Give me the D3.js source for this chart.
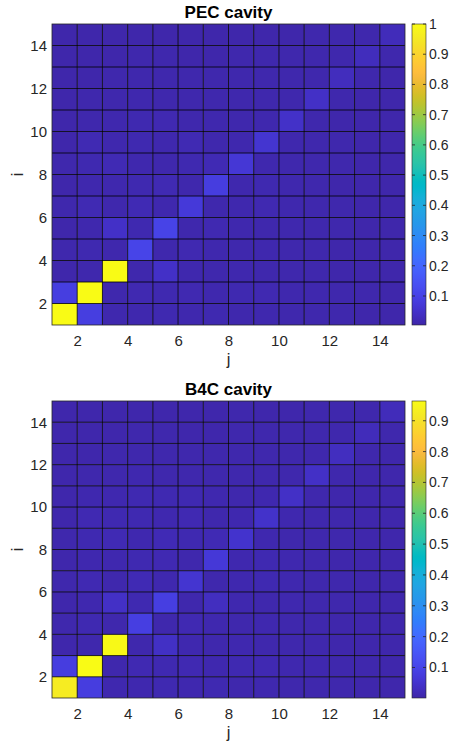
<!DOCTYPE html>
<html>
<head>
<meta charset="utf-8">
<script src="https://cdn.jsdelivr.net/npm/d3@7"></script>
<style>
  html, body { margin: 0; padding: 0; background: #fff; }
  svg { display: block; }
  text { font-family: "Liberation Sans", Arial, Helvetica, sans-serif; }
</style>
</head>
<body>
<svg id="chart" width="449" height="746"></svg>
<script>
// ---------------- data ----------------
const titles = ["PEC cavity", "B4C cavity"];
const axisTicks = [2, 4, 6, 8, 10, 12, 14];
const xLabel = "j";
const yLabel = "i";

// rows i = 1..14 (bottom to top), columns j = 1..14
const pecValues = [
  [1.0, 0.088, 0.012, 0.012, 0.014, 0.012, 0.014, 0.01, 0.012, 0.01, 0.01, 0.01, 0.008, 0.008],
  [0.088, 1.0, 0.01, 0.016, 0.014, 0.016, 0.012, 0.014, 0.016, 0.012, 0.012, 0.01, 0.01, 0.008],
  [0.008, 0.01, 1.0, 0.01, 0.045, 0.012, 0.01, 0.012, 0.01, 0.01, 0.01, 0.008, 0.008, 0.008],
  [0.01, 0.014, 0.01, 0.107, 0.01, 0.016, 0.012, 0.01, 0.012, 0.01, 0.01, 0.008, 0.008, 0.008],
  [0.008, 0.012, 0.045, 0.014, 0.105, 0.01, 0.016, 0.012, 0.01, 0.012, 0.01, 0.01, 0.008, 0.008],
  [0.01, 0.018, 0.01, 0.02, 0.012, 0.075, 0.01, 0.012, 0.016, 0.012, 0.01, 0.01, 0.008, 0.008],
  [0.008, 0.012, 0.012, 0.014, 0.018, 0.01, 0.085, 0.012, 0.014, 0.012, 0.01, 0.008, 0.008, 0.008],
  [0.01, 0.014, 0.02, 0.012, 0.01, 0.014, 0.02, 0.067, 0.012, 0.01, 0.01, 0.01, 0.008, 0.008],
  [0.008, 0.018, 0.012, 0.014, 0.012, 0.018, 0.01, 0.012, 0.06, 0.012, 0.01, 0.01, 0.008, 0.008],
  [0.008, 0.01, 0.012, 0.014, 0.016, 0.01, 0.012, 0.01, 0.012, 0.047, 0.01, 0.008, 0.008, 0.008],
  [0.008, 0.01, 0.01, 0.012, 0.01, 0.01, 0.01, 0.01, 0.01, 0.01, 0.044, 0.01, 0.008, 0.008],
  [0.008, 0.008, 0.01, 0.01, 0.01, 0.01, 0.01, 0.01, 0.01, 0.01, 0.01, 0.032, 0.01, 0.008],
  [0.008, 0.008, 0.008, 0.01, 0.01, 0.008, 0.008, 0.01, 0.01, 0.01, 0.01, 0.01, 0.03, 0.01],
  [0.008, 0.008, 0.008, 0.008, 0.008, 0.008, 0.008, 0.008, 0.008, 0.008, 0.01, 0.01, 0.01, 0.028]
];
const b4cValues = [
  [0.926, 0.08, 0.01, 0.01, 0.012, 0.01, 0.012, 0.008, 0.01, 0.008, 0.008, 0.008, 0.006, 0.006],
  [0.08, 0.964, 0.008, 0.014, 0.012, 0.014, 0.01, 0.012, 0.014, 0.01, 0.01, 0.008, 0.008, 0.006],
  [0.006, 0.008, 0.958, 0.008, 0.038, 0.01, 0.008, 0.01, 0.008, 0.008, 0.008, 0.006, 0.006, 0.006],
  [0.008, 0.012, 0.008, 0.085, 0.008, 0.014, 0.01, 0.008, 0.01, 0.008, 0.008, 0.006, 0.006, 0.006],
  [0.006, 0.01, 0.04, 0.012, 0.085, 0.008, 0.03, 0.01, 0.008, 0.01, 0.008, 0.008, 0.006, 0.006],
  [0.008, 0.014, 0.008, 0.016, 0.01, 0.055, 0.008, 0.01, 0.012, 0.01, 0.008, 0.008, 0.006, 0.006],
  [0.006, 0.01, 0.01, 0.012, 0.014, 0.008, 0.065, 0.01, 0.012, 0.01, 0.008, 0.006, 0.006, 0.006],
  [0.008, 0.012, 0.016, 0.01, 0.018, 0.012, 0.016, 0.05, 0.01, 0.008, 0.008, 0.008, 0.006, 0.006],
  [0.006, 0.014, 0.012, 0.012, 0.01, 0.014, 0.008, 0.01, 0.045, 0.01, 0.008, 0.008, 0.006, 0.006],
  [0.006, 0.01, 0.01, 0.012, 0.012, 0.012, 0.01, 0.008, 0.01, 0.04, 0.008, 0.006, 0.006, 0.006],
  [0.006, 0.008, 0.008, 0.01, 0.008, 0.008, 0.008, 0.008, 0.008, 0.008, 0.04, 0.008, 0.006, 0.006],
  [0.006, 0.006, 0.008, 0.008, 0.008, 0.008, 0.008, 0.008, 0.008, 0.008, 0.008, 0.03, 0.008, 0.006],
  [0.006, 0.006, 0.006, 0.008, 0.008, 0.006, 0.006, 0.008, 0.008, 0.008, 0.008, 0.008, 0.024, 0.008],
  [0.006, 0.006, 0.006, 0.006, 0.006, 0.006, 0.006, 0.008, 0.006, 0.006, 0.008, 0.008, 0.008, 0.024]
];
const pecColorRange = [0.004, 1.0];
const b4cColorRange = [0.001, 0.964];
const pecColorbarTicks = [0.1, 0.2, 0.3, 0.4, 0.5, 0.6, 0.7, 0.8, 0.9, 1];
const b4cColorbarTicks = [0.1, 0.2, 0.3, 0.4, 0.5, 0.6, 0.7, 0.8, 0.9];

// MATLAB parula colormap (64 entries)
const parula = [
[0.2422,0.1504,0.6603],[0.2504,0.1650,0.7076],[0.2578,0.1818,0.7511],[0.2647,0.1978,0.7952],
[0.2706,0.2147,0.8364],[0.2751,0.2342,0.8710],[0.2783,0.2559,0.8991],[0.2803,0.2782,0.9221],
[0.2813,0.3006,0.9414],[0.2810,0.3228,0.9579],[0.2795,0.3447,0.9717],[0.2760,0.3667,0.9829],
[0.2699,0.3892,0.9906],[0.2602,0.4123,0.9952],[0.2440,0.4358,0.9988],[0.2206,0.4603,0.9973],
[0.1963,0.4847,0.9892],[0.1834,0.5074,0.9798],[0.1786,0.5289,0.9689],[0.1764,0.5499,0.9520],
[0.1687,0.5703,0.9359],[0.1540,0.5902,0.9218],[0.1460,0.6091,0.9079],[0.1380,0.6276,0.8973],
[0.1248,0.6459,0.8883],[0.1113,0.6635,0.8763],[0.0952,0.6798,0.8598],[0.0689,0.6948,0.8394],
[0.0297,0.7082,0.8163],[0.0036,0.7203,0.7917],[0.0067,0.7312,0.7660],[0.0433,0.7411,0.7394],
[0.0964,0.7500,0.7120],[0.1408,0.7584,0.6842],[0.1717,0.7670,0.6554],[0.1938,0.7758,0.6251],
[0.2161,0.7843,0.5923],[0.2470,0.7918,0.5567],[0.2906,0.7973,0.5188],[0.3406,0.8008,0.4789],
[0.3909,0.8029,0.4354],[0.4456,0.8024,0.3909],[0.5044,0.7993,0.3480],[0.5616,0.7942,0.3045],
[0.6174,0.7876,0.2612],[0.6720,0.7793,0.2227],[0.7242,0.7698,0.1910],[0.7738,0.7598,0.1646],
[0.8203,0.7498,0.1535],[0.8634,0.7406,0.1596],[0.9035,0.7330,0.1774],[0.9393,0.7288,0.2100],
[0.9728,0.7298,0.2394],[0.9956,0.7434,0.2371],[0.9970,0.7659,0.2199],[0.9952,0.7893,0.2028],
[0.9892,0.8136,0.1885],[0.9786,0.8386,0.1766],[0.9676,0.8639,0.1643],[0.9610,0.8890,0.1537],
[0.9597,0.9135,0.1423],[0.9628,0.9373,0.1265],[0.9691,0.9606,0.1064],[0.9769,0.9839,0.0805]
].map(c => d3.rgb(c[0]*255, c[1]*255, c[2]*255).formatHex());
const parulaInterp = d3.piecewise(d3.interpolateRgb, parula);

// ---------------- drawing ----------------
const svg = d3.select("#chart");
const panels = [
  { title: titles[0], values: pecValues, range: pecColorRange, cticks: pecColorbarTicks,
    box: { left: 52, right: 405, top: 24, bottom: 325 }, titleY: 18 },
  { title: titles[1], values: b4cValues, range: b4cColorRange, cticks: b4cColorbarTicks,
    box: { left: 52, right: 405, top: 401, bottom: 698 }, titleY: 395 }
];

const axisColor = "#262626";
const tickFont = "15px";

panels.forEach((p, pi) => {
  const b = p.box;
  const g = svg.append("g").attr("class", "panel-" + pi);
  const x = d3.scaleLinear().domain([1, 15]).range([b.left, b.right]);
  const y = d3.scaleLinear().domain([1, 15]).range([b.bottom, b.top]);
  const color = d3.scaleSequential(parulaInterp).domain(p.range).clamp(true);

  const cells = [];
  p.values.forEach((row, ri) => row.forEach((v, ci) => cells.push({ i: ri + 1, j: ci + 1, v })));

  g.append("g").selectAll("rect").data(cells).join("rect")
    .attr("x", d => x(d.j))
    .attr("y", d => y(d.i + 1))
    .attr("width", d => x(d.j + 1) - x(d.j))
    .attr("height", d => y(d.i) - y(d.i + 1))
    .attr("fill", d => color(d.v))
    .attr("stroke", "none");

  // grid (cell edges)
  const edges = d3.range(2, 15);
  g.append("g").selectAll("line.v").data(edges).join("line")
    .attr("x1", d => x(d)).attr("x2", d => x(d))
    .attr("y1", b.top).attr("y2", b.bottom)
    .attr("stroke", "#000").attr("stroke-opacity", 0.8).attr("stroke-width", 1);
  g.append("g").selectAll("line.h").data(edges).join("line")
    .attr("y1", d => y(d)).attr("y2", d => y(d))
    .attr("x1", b.left).attr("x2", b.right)
    .attr("stroke", "#000").attr("stroke-opacity", 0.8).attr("stroke-width", 1);

  // axes
  const xAxis = d3.axisBottom(x).tickValues(axisTicks).tickSize(0).tickPadding(10);
  const yAxis = d3.axisLeft(y).tickValues(axisTicks).tickSize(0).tickPadding(5);
  const gx = g.append("g").attr("transform", `translate(0,${b.bottom})`).call(xAxis);
  const gy = g.append("g").attr("transform", `translate(${b.left},0)`).call(yAxis);
  [gx, gy].forEach(a => {
    a.select(".domain").remove();
    a.selectAll("text").attr("fill", axisColor).style("font-size", tickFont)
      .style("font-family", '"Liberation Sans", Arial, Helvetica, sans-serif');
  });

  // box
  g.append("rect")
    .attr("x", b.left).attr("y", b.top)
    .attr("width", b.right - b.left).attr("height", b.bottom - b.top)
    .attr("fill", "none").attr("stroke", axisColor).attr("stroke-width", 0.8);

  // title
  g.append("text")
    .attr("x", (b.left + b.right) / 2).attr("y", p.titleY)
    .attr("text-anchor", "middle")
    .style("font-size", "17px").style("font-weight", "bold").attr("fill", "#000")
    .text(p.title);

  // axis labels
  g.append("text")
    .attr("x", (b.left + b.right) / 2).attr("y", b.bottom + 40)
    .attr("text-anchor", "middle").style("font-size", "16.5px").attr("fill", axisColor)
    .text(xLabel);
  g.append("text")
    .attr("transform", `translate(23,${(b.top + b.bottom) / 2}) rotate(-90)`)
    .attr("text-anchor", "middle").style("font-size", "16.5px").attr("fill", axisColor)
    .text(yLabel);

  // colorbar
  const cb = { left: 412, right: 426, top: b.top, bottom: b.bottom };
  const cy = d3.scaleLinear().domain(p.range).range([cb.bottom, cb.top]);
  const gradId = "grad" + pi;
  const grad = svg.append("defs").append("linearGradient")
    .attr("id", gradId).attr("x1", 0).attr("x2", 0).attr("y1", 1).attr("y2", 0);
  d3.range(0, 1.0001, 1 / 63).forEach(t => {
    grad.append("stop").attr("offset", t).attr("stop-color", parulaInterp(t));
  });
  g.append("rect")
    .attr("x", cb.left).attr("y", cb.top)
    .attr("width", cb.right - cb.left).attr("height", cb.bottom - cb.top)
    .attr("fill", `url(#${gradId})`)
    .attr("stroke", axisColor).attr("stroke-width", 0.6);
  const cAxis = d3.axisRight(cy).tickValues(p.cticks).tickSize(0).tickPadding(3)
    .tickFormat(d => d === 1 ? "1" : d3.format(".1f")(d));
  const gc = g.append("g").attr("transform", `translate(${cb.right},0)`).call(cAxis);
  gc.select(".domain").remove();
  gc.selectAll("text").attr("fill", axisColor).style("font-size", "14px")
    .style("font-family", '"Liberation Sans", Arial, Helvetica, sans-serif');
  // inner tick marks
  g.append("g").selectAll("line").data(p.cticks).join("line")
    .attr("x1", cb.right - 3).attr("x2", cb.right)
    .attr("y1", d => cy(d)).attr("y2", d => cy(d))
    .attr("stroke", axisColor).attr("stroke-width", 0.8);
  g.append("g").selectAll("line").data(p.cticks).join("line")
    .attr("x1", cb.left).attr("x2", cb.left + 3)
    .attr("y1", d => cy(d)).attr("y2", d => cy(d))
    .attr("stroke", axisColor).attr("stroke-width", 0.8);
});
</script>
</body>
</html>
